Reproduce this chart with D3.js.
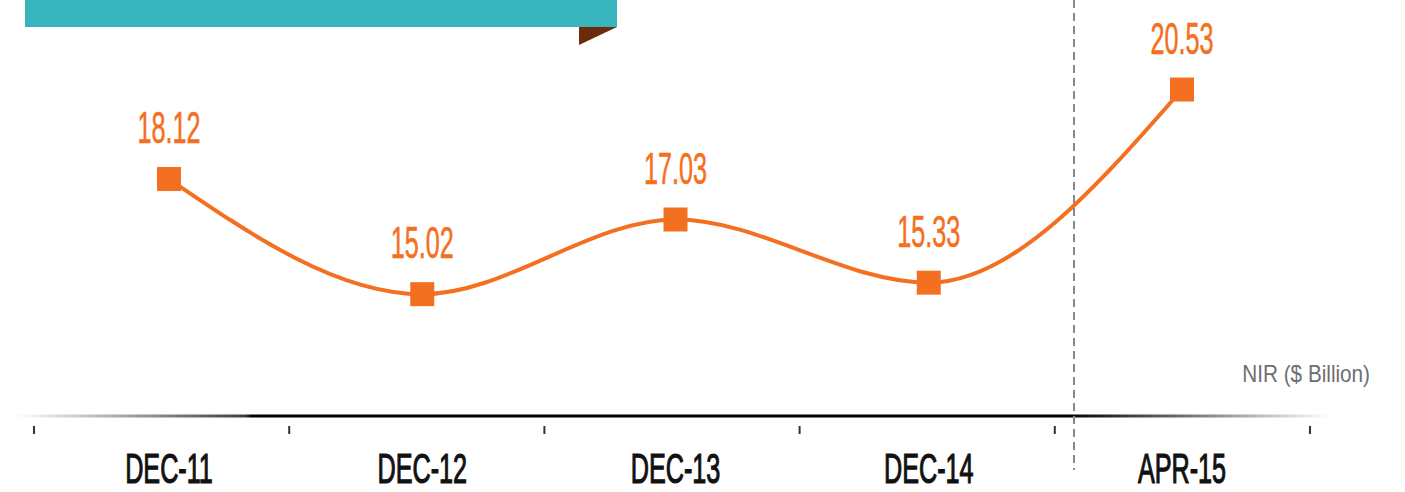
<!DOCTYPE html>
<html><head><meta charset="utf-8">
<script src="https://cdn.jsdelivr.net/npm/d3@7"></script>
<style>html,body{margin:0;padding:0;background:#fff;}svg{display:block;}</style>
</head><body>
<svg id="chart" width="1405" height="492"></svg>
<script>
const categories = ["DEC-11","DEC-12","DEC-13","DEC-14","APR-15"];
const values = [18.12, 15.02, 17.03, 15.33, 20.53];
const valueLabels = ["18.12","15.02","17.03","15.33","20.53"];
const unitLabel = "NIR ($ Billion)";

const svg = d3.select("#chart");
const orange = "#F37021";

// banner
svg.append("rect").attr("x",25).attr("y",0).attr("width",592).attr("height",27).attr("fill","#38B4BC");
svg.append("path").attr("d","M579,27 L617,27 L579,45 Z").attr("fill","#6B2C0E");

const x = d3.scalePoint().domain(categories).range([169,1182]);
const xb = d3.scaleBand().domain(categories).range([34,1310]);
const y = d3.scaleLinear().domain([11.74, 22.94]).range([416, 0]);

// baseline with gradient
const defs = svg.append("defs");
const g = defs.append("linearGradient").attr("id","base").attr("x1","0").attr("x2","1").attr("y1","0").attr("y2","0");
g.append("stop").attr("offset","0").attr("stop-color","#000").attr("stop-opacity",0);
g.append("stop").attr("offset","0.175").attr("stop-color","#000").attr("stop-opacity",0.75);
g.append("stop").attr("offset","0.18").attr("stop-color","#000").attr("stop-opacity",1);
g.append("stop").attr("offset","0.8").attr("stop-color","#000").attr("stop-opacity",1);
g.append("stop").attr("offset","1").attr("stop-color","#000").attr("stop-opacity",0);
svg.append("rect").attr("x",15).attr("y",414.5).attr("width",1315).attr("height",3).attr("fill","url(#base)");

// ticks
const tickPos = xb.domain().map(d => xb(d)).concat([xb.range()[1]]);
svg.selectAll("rect.tick").data(tickPos).join("rect").attr("class","tick")
  .attr("x", d => d - 1).attr("y", 426).attr("width", 2).attr("height", 8).attr("fill", "#333");

// dashed separator
svg.append("line").attr("x1",1074).attr("x2",1074).attr("y1",0).attr("y2",470)
  .attr("stroke","#888").attr("stroke-width",2).attr("stroke-dasharray","8,5");

// x labels
svg.selectAll("g.xl").data(categories).join("g").attr("class","xl")
  .attr("transform", d => `translate(${x(d)},483) scale(0.6,1)`)
  .append("text").attr("text-anchor","middle")
  .attr("font-family","Liberation Sans, Arial, sans-serif")
  .attr("font-size",42).attr("fill","#111").attr("stroke","#111").attr("stroke-width",1.2).text(d => d);

// line
const pts = categories.map((c,i)=>({c, v: values[i], l: valueLabels[i]}));
svg.append("path").datum(pts)
  .attr("d", d3.line().x(d => x(d.c)).y(d => y(d.v)).curve(d3.curveMonotoneX))
  .attr("fill","none").attr("stroke",orange).attr("stroke-width",4);

// markers
svg.selectAll("rect.mk").data(pts).join("rect").attr("class","mk")
  .attr("x", d => x(d.c) - 12).attr("y", d => y(d.v) - 12)
  .attr("width",24).attr("height",24).attr("fill",orange);

// value labels
svg.selectAll("g.vl").data(pts).join("g").attr("class","vl")
  .attr("transform", d => `translate(${x(d.c)},${y(d.v)-36}) scale(0.56,1)`)
  .append("text").attr("text-anchor","middle")
  .attr("font-family","Liberation Sans, Arial, sans-serif")
  .attr("font-size",45).attr("fill",orange).attr("stroke",orange).attr("stroke-width",0.6).text(d => d.l);

// unit label
svg.append("g").attr("transform","translate(1370,382) scale(0.9,1)")
  .append("text").attr("text-anchor","end")
  .attr("font-family","Liberation Sans, Arial, sans-serif")
  .attr("font-size",23).attr("fill","#6d6e71").text(unitLabel);
</script>
</body></html>
